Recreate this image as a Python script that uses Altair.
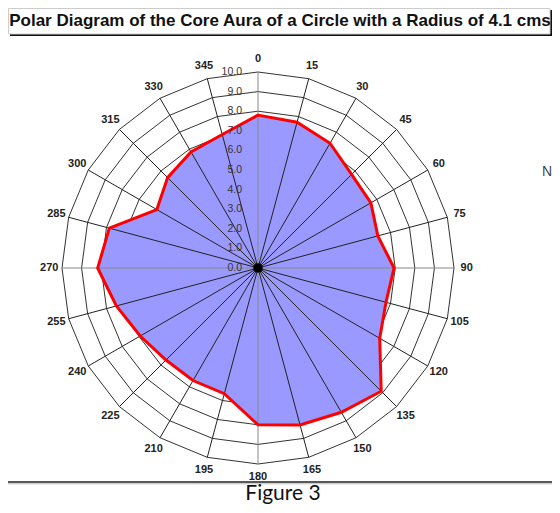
import altair as alt
import pandas as pd

# ---------------- data ----------------
angles = list(range(0, 360, 15))
aura = [7.8, 7.7, 7.35, 6.75, 6.65, 6.33, 6.94, 6.76, 7.17, 8.89, 8.5, 8.29,
        8.0, 6.64, 6.63, 6.64, 6.94, 7.48, 8.18, 7.85, 5.96, 6.52, 6.84, 7.05]
ring_values = list(range(1, 11))
ring_label_values = list(range(0, 11))
ring_labels = [f"{v:.1f}" for v in ring_label_values]
angle_labels = [str(a) for a in angles]
title_text = "Polar Diagram of the Core Aura of a Circle with a Radius of 4.1 cms"
caption_text = "Figure 3"
side_text = "N"

# ---------------- layout ----------------
W, H = 544, 497
CX, CY = 250, 260          # centre of the polar plot in view pixels
PX_PER_UNIT = 19.6
LABEL_R = 10.65
FONT = "Liberation Sans"

sx = alt.Scale(domain=[-CX / PX_PER_UNIT, (W - CX) / PX_PER_UNIT], nice=False, zero=False)
sy = alt.Scale(domain=[-(H - CY) / PX_PER_UNIT, CY / PX_PER_UNIT], nice=False, zero=False)

polar = dict(px="datum.r * sin(datum.angle * PI / 180)",
             py="datum.r * cos(datum.angle * PI / 180)",
             o="0")

X = alt.X("px:Q", scale=sx, axis=None)
Y = alt.Y("py:Q", scale=sy, axis=None)

aura_df = pd.DataFrame({"angle": angles, "r": aura})
rings_df = pd.DataFrame([(r, a) for r in ring_values for a in angles], columns=["r", "angle"])
spokes_df = pd.DataFrame({"angle": angles, "r": 10,
                          "kind": ["major" if a % 90 == 0 else "minor" for a in angles]})
ring_lab_df = pd.DataFrame({"r": ring_label_values, "angle": 0, "label": ring_labels})
ang_lab_df = pd.DataFrame({"angle": angles, "r": LABEL_R, "label": angle_labels})
one = pd.DataFrame({"r": [0], "angle": [0]})

# title box
shadow = alt.Chart(one).mark_rect(color="#111111").encode(
    x=alt.value(2), x2=alt.value(544), y=alt.value(2), y2=alt.value(28))
box = alt.Chart(one).mark_rect(fill="white", stroke="#cccccc", strokeWidth=1).encode(
    x=alt.value(0.5), x2=alt.value(542), y=alt.value(0.5), y2=alt.value(26))
title = alt.Chart(pd.DataFrame({"t": [title_text]})).mark_text(
    font=FONT, fontSize=17, fontWeight="bold", color="#111111",
    align="center", baseline="middle").encode(
    x=alt.value(272), y=alt.value(12.5), text="t:N")

rings = alt.Chart(rings_df).transform_calculate(**polar).mark_line(
    interpolate="linear-closed", color="#333333", strokeWidth=1).encode(
    x=X, y=Y, detail="r:N", order="angle:Q")

fill = alt.Chart(aura_df).transform_calculate(**polar).mark_line(
    interpolate="linear-closed", fill="#9999ff", stroke="#9999ff", strokeWidth=0.5).encode(
    x=X, y=Y, order="angle:Q")

spokes = alt.Chart(spokes_df).transform_calculate(**polar).mark_rule(strokeWidth=1).encode(
    x=alt.X("o:Q", scale=sx, axis=None), y=alt.Y("o:Q", scale=sy, axis=None),
    x2="px:Q", y2="py:Q",
    color=alt.Color("kind:N", scale=alt.Scale(domain=["major", "minor"],
                                               range=["#888888", "#222222"]), legend=None))

outline = alt.Chart(aura_df).transform_calculate(**polar).mark_line(
    interpolate="linear-closed", color="#ff0000", strokeWidth=3, strokeJoin="miter").encode(
    x=X, y=Y, order="angle:Q")

ring_text = alt.Chart(ring_lab_df).transform_calculate(**polar).mark_text(
    font=FONT, fontSize=10.5, color="#333333", align="right", baseline="middle", dx=-16).encode(
    x=X, y=Y, text="label:N")

ang_text = alt.Chart(ang_lab_df).transform_calculate(**polar).mark_text(
    font=FONT, fontSize=11, fontWeight="bold", color="#222222",
    align="center", baseline="middle").encode(
    x=X, y=Y, text="label:N")

centre = alt.Chart(one).transform_calculate(**polar).mark_circle(
    size=90, color="black", opacity=1).encode(x=X, y=Y)

rule_dark = alt.Chart(one).mark_rule(color="#222222", strokeWidth=1.5).encode(
    x=alt.value(0), x2=alt.value(W), y=alt.value(474))
rule_light = alt.Chart(one).mark_rule(color="#bbbbbb", strokeWidth=1).encode(
    x=alt.value(0), x2=alt.value(W), y=alt.value(475.8))

caption = alt.Chart(pd.DataFrame({"t": [caption_text]})).mark_text(
    font="Lato", fontSize=21, color="#111111", align="center", baseline="alphabetic").encode(
    x=alt.value(275), y=alt.value(492), text="t:N")

side = alt.Chart(pd.DataFrame({"t": [side_text]})).mark_text(
    font=FONT, fontSize=14, color="#444444", align="right", baseline="middle").encode(
    x=alt.value(544), y=alt.value(164), text="t:N")

chart = alt.layer(
    shadow, box, title, rings, fill, spokes, outline, ring_text, ang_text, centre,
    rule_dark, rule_light, caption, side
).properties(
    width=W, height=H, padding=0, autosize="none", background="white"
).configure_view(stroke=None)

chart.save("out.html", embed_options={"renderer": "svg", "actions": False})
